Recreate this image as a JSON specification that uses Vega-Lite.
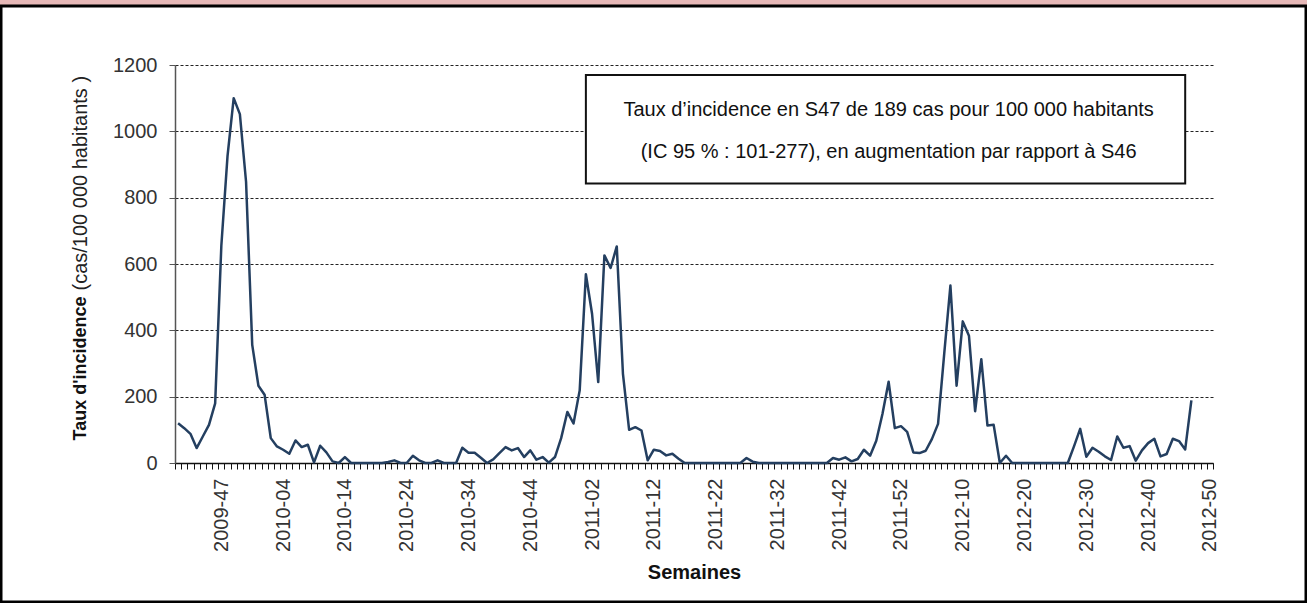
{
  "$schema": "https://vega.github.io/schema/vega-lite/v6.json",
  "width": 1305,
  "height": 596,
  "autosize": {"type": "none"},
  "padding": {"left": 1, "top": 6, "right": 1, "bottom": 1},
  "background": "#E6B8B7",
  "config": {
    "font": "Liberation Sans",
    "view": {"stroke": "black", "strokeWidth": 3, "fill": "white"}
  },
  "resolve": {"axis": {"y": "independent"}},
  "layer": [
    {
      "data": {
        "values": [
          {"week": "2009-40", "taux": 120}, {"week": "2009-41", "taux": 105}, {"week": "2009-42", "taux": 88}, {"week": "2009-43", "taux": 45},
          {"week": "2009-44", "taux": 80}, {"week": "2009-45", "taux": 115}, {"week": "2009-46", "taux": 180}, {"week": "2009-47", "taux": 655},
          {"week": "2009-48", "taux": 925}, {"week": "2009-49", "taux": 1100}, {"week": "2009-50", "taux": 1052}, {"week": "2009-51", "taux": 848},
          {"week": "2009-52", "taux": 356}, {"week": "2009-53", "taux": 233},
          {"week": "2010-01", "taux": 206}, {"week": "2010-02", "taux": 75}, {"week": "2010-03", "taux": 50}, {"week": "2010-04", "taux": 40},
          {"week": "2010-05", "taux": 28}, {"week": "2010-06", "taux": 68}, {"week": "2010-07", "taux": 48}, {"week": "2010-08", "taux": 55},
          {"week": "2010-09", "taux": 2}, {"week": "2010-10", "taux": 52}, {"week": "2010-11", "taux": 32}, {"week": "2010-12", "taux": 5},
          {"week": "2010-13", "taux": 0}, {"week": "2010-14", "taux": 18}, {"week": "2010-15", "taux": 0}, {"week": "2010-16", "taux": 0},
          {"week": "2010-17", "taux": 0}, {"week": "2010-18", "taux": 0}, {"week": "2010-19", "taux": 0}, {"week": "2010-20", "taux": 0},
          {"week": "2010-21", "taux": 3}, {"week": "2010-22", "taux": 8}, {"week": "2010-23", "taux": 0}, {"week": "2010-24", "taux": 0},
          {"week": "2010-25", "taux": 22}, {"week": "2010-26", "taux": 8}, {"week": "2010-27", "taux": 0}, {"week": "2010-28", "taux": 0},
          {"week": "2010-29", "taux": 8}, {"week": "2010-30", "taux": 0}, {"week": "2010-31", "taux": 0}, {"week": "2010-32", "taux": 0},
          {"week": "2010-33", "taux": 46}, {"week": "2010-34", "taux": 31}, {"week": "2010-35", "taux": 31}, {"week": "2010-36", "taux": 16},
          {"week": "2010-37", "taux": 0}, {"week": "2010-38", "taux": 11}, {"week": "2010-39", "taux": 30}, {"week": "2010-40", "taux": 48},
          {"week": "2010-41", "taux": 38}, {"week": "2010-42", "taux": 45}, {"week": "2010-43", "taux": 18}, {"week": "2010-44", "taux": 38},
          {"week": "2010-45", "taux": 10}, {"week": "2010-46", "taux": 18}, {"week": "2010-47", "taux": 1}, {"week": "2010-48", "taux": 18},
          {"week": "2010-49", "taux": 75}, {"week": "2010-50", "taux": 154}, {"week": "2010-51", "taux": 119}, {"week": "2010-52", "taux": 219},
          {"week": "2011-01", "taux": 569}, {"week": "2011-02", "taux": 450}, {"week": "2011-03", "taux": 244}, {"week": "2011-04", "taux": 626},
          {"week": "2011-05", "taux": 588}, {"week": "2011-06", "taux": 653}, {"week": "2011-07", "taux": 269}, {"week": "2011-08", "taux": 100},
          {"week": "2011-09", "taux": 108}, {"week": "2011-10", "taux": 98}, {"week": "2011-11", "taux": 8}, {"week": "2011-12", "taux": 40},
          {"week": "2011-13", "taux": 36}, {"week": "2011-14", "taux": 23}, {"week": "2011-15", "taux": 28}, {"week": "2011-16", "taux": 13},
          {"week": "2011-17", "taux": 0}, {"week": "2011-18", "taux": 0}, {"week": "2011-19", "taux": 0}, {"week": "2011-20", "taux": 0},
          {"week": "2011-21", "taux": 0}, {"week": "2011-22", "taux": 0}, {"week": "2011-23", "taux": 0}, {"week": "2011-24", "taux": 0},
          {"week": "2011-25", "taux": 0}, {"week": "2011-26", "taux": 0}, {"week": "2011-27", "taux": 15}, {"week": "2011-28", "taux": 4},
          {"week": "2011-29", "taux": 0}, {"week": "2011-30", "taux": 0}, {"week": "2011-31", "taux": 0}, {"week": "2011-32", "taux": 0},
          {"week": "2011-33", "taux": 0}, {"week": "2011-34", "taux": 0}, {"week": "2011-35", "taux": 0}, {"week": "2011-36", "taux": 0},
          {"week": "2011-37", "taux": 0}, {"week": "2011-38", "taux": 0}, {"week": "2011-39", "taux": 0}, {"week": "2011-40", "taux": 0},
          {"week": "2011-41", "taux": 15}, {"week": "2011-42", "taux": 10}, {"week": "2011-43", "taux": 17}, {"week": "2011-44", "taux": 5},
          {"week": "2011-45", "taux": 12}, {"week": "2011-46", "taux": 40}, {"week": "2011-47", "taux": 22}, {"week": "2011-48", "taux": 67},
          {"week": "2011-49", "taux": 148}, {"week": "2011-50", "taux": 245}, {"week": "2011-51", "taux": 105}, {"week": "2011-52", "taux": 111},
          {"week": "2012-01", "taux": 94}, {"week": "2012-02", "taux": 32}, {"week": "2012-03", "taux": 30}, {"week": "2012-04", "taux": 37},
          {"week": "2012-05", "taux": 72}, {"week": "2012-06", "taux": 118}, {"week": "2012-07", "taux": 330}, {"week": "2012-08", "taux": 535},
          {"week": "2012-09", "taux": 233}, {"week": "2012-10", "taux": 427}, {"week": "2012-11", "taux": 384}, {"week": "2012-12", "taux": 156},
          {"week": "2012-13", "taux": 313}, {"week": "2012-14", "taux": 113}, {"week": "2012-15", "taux": 115}, {"week": "2012-16", "taux": 0},
          {"week": "2012-17", "taux": 22}, {"week": "2012-18", "taux": 0}, {"week": "2012-19", "taux": 0}, {"week": "2012-20", "taux": 0},
          {"week": "2012-21", "taux": 0}, {"week": "2012-22", "taux": 0}, {"week": "2012-23", "taux": 0}, {"week": "2012-24", "taux": 0},
          {"week": "2012-25", "taux": 0}, {"week": "2012-26", "taux": 0}, {"week": "2012-27", "taux": 0}, {"week": "2012-28", "taux": 50},
          {"week": "2012-29", "taux": 103}, {"week": "2012-30", "taux": 19}, {"week": "2012-31", "taux": 46}, {"week": "2012-32", "taux": 34},
          {"week": "2012-33", "taux": 20}, {"week": "2012-34", "taux": 9}, {"week": "2012-35", "taux": 80}, {"week": "2012-36", "taux": 46},
          {"week": "2012-37", "taux": 51}, {"week": "2012-38", "taux": 7}, {"week": "2012-39", "taux": 38}, {"week": "2012-40", "taux": 60},
          {"week": "2012-41", "taux": 73}, {"week": "2012-42", "taux": 20}, {"week": "2012-43", "taux": 27}, {"week": "2012-44", "taux": 73},
          {"week": "2012-45", "taux": 66}, {"week": "2012-46", "taux": 41}, {"week": "2012-47", "taux": 189}
        ]
      },
      "mark": {"type": "line", "color": "#243F60", "strokeWidth": 2.5, "strokeJoin": "round"},
      "encoding": {
        "x": {
          "field": "week", "type": "ordinal", "sort": null,
          "scale": {
            "type": "band", "paddingInner": 0, "paddingOuter": 0, "range": [174, 1212],
            "domain": ["2009-40","2009-41","2009-42","2009-43","2009-44","2009-45","2009-46","2009-47","2009-48","2009-49","2009-50","2009-51","2009-52","2009-53",
              "2010-01","2010-02","2010-03","2010-04","2010-05","2010-06","2010-07","2010-08","2010-09","2010-10","2010-11","2010-12","2010-13","2010-14","2010-15","2010-16","2010-17","2010-18","2010-19","2010-20","2010-21","2010-22","2010-23","2010-24","2010-25","2010-26","2010-27","2010-28","2010-29","2010-30","2010-31","2010-32","2010-33","2010-34","2010-35","2010-36","2010-37","2010-38","2010-39","2010-40","2010-41","2010-42","2010-43","2010-44","2010-45","2010-46","2010-47","2010-48","2010-49","2010-50","2010-51","2010-52",
              "2011-01","2011-02","2011-03","2011-04","2011-05","2011-06","2011-07","2011-08","2011-09","2011-10","2011-11","2011-12","2011-13","2011-14","2011-15","2011-16","2011-17","2011-18","2011-19","2011-20","2011-21","2011-22","2011-23","2011-24","2011-25","2011-26","2011-27","2011-28","2011-29","2011-30","2011-31","2011-32","2011-33","2011-34","2011-35","2011-36","2011-37","2011-38","2011-39","2011-40","2011-41","2011-42","2011-43","2011-44","2011-45","2011-46","2011-47","2011-48","2011-49","2011-50","2011-51","2011-52",
              "2012-01","2012-02","2012-03","2012-04","2012-05","2012-06","2012-07","2012-08","2012-09","2012-10","2012-11","2012-12","2012-13","2012-14","2012-15","2012-16","2012-17","2012-18","2012-19","2012-20","2012-21","2012-22","2012-23","2012-24","2012-25","2012-26","2012-27","2012-28","2012-29","2012-30","2012-31","2012-32","2012-33","2012-34","2012-35","2012-36","2012-37","2012-38","2012-39","2012-40","2012-41","2012-42","2012-43","2012-44","2012-45","2012-46","2012-47","2012-48","2012-49","2012-50"]
          },
          "axis": {
            "offset": -139,
            "title": "Semaines", "titleFontSize": 20, "titleFontWeight": "bold", "titleColor": "#111111",
            "titleY": 109, "titleBaseline": "middle",
            "labelAngle": 270, "labelFontSize": 20, "labelPadding": 9, "labelColor": "#333333",
            "labelOverlap": false, "labelFlush": false,
            "labelExpr": "indexof(['2009-47','2010-04','2010-14','2010-24','2010-34','2010-44','2011-02','2011-12','2011-22','2011-32','2011-42','2011-52','2012-10','2012-20','2012-30','2012-40','2012-50'], datum.value) >= 0 ? datum.value : ''",
            "tickBand": "extent", "tickSize": 6, "tickColor": "#111111", "tickWidth": 1,
            "domainColor": "#111111", "domainWidth": 1.5, "grid": false
          }
        },
        "y": {
          "field": "taux", "type": "quantitative",
          "scale": {"domain": [0, 1200], "range": [457, 59], "nice": false, "zero": true},
          "axis": {
            "orient": "left",
            "offset": -174,
            "values": [0, 200, 400, 600, 800, 1000, 1200],
            "format": "d",
            "labelFontSize": 20, "labelColor": "#333333", "labelPadding": 12,
            "tickSize": 6, "tickColor": "#555555", "domainColor": "#555555", "domainWidth": 1.5,
            "grid": true, "gridColor": "#222222", "gridDash": [3, 2], "gridWidth": 1,
            "title": "(cas/100 000 habitants )", "titleFontSize": 20, "titleFontWeight": "normal", "titleColor": "#222222",
            "titleAngle": 270, "titleAlign": "left", "titleBaseline": "middle", "titleX": -95, "titleY": 284
          }
        }
      }
    },
    {
      "data": {"values": [{"semaine_debut": "2011-01", "semaine_fin": "2012-46", "haut": 1170, "bas": 843}]},
      "mark": {"type": "rect", "fill": "white", "stroke": "#111111", "strokeWidth": 2},
      "encoding": {
        "x": {"field": "semaine_debut", "type": "ordinal"},
        "x2": {"field": "semaine_fin"},
        "y": {"field": "haut", "type": "quantitative", "axis": null},
        "y2": {"field": "bas"}
      }
    },
    {
      "data": {"values": [{"semaine": "2011-50", "niveau": 1063, "texte": ["Taux d’incidence en S47 de 189 cas pour 100 000 habitants", "(IC 95 % : 101-277), en augmentation par rapport à S46"]}]},
      "mark": {"type": "text", "fontSize": 20, "color": "#111111", "align": "center", "baseline": "middle", "lineHeight": 42},
      "encoding": {
        "x": {"field": "semaine", "type": "ordinal"},
        "y": {
          "field": "niveau", "type": "quantitative",
          "axis": {
            "orient": "left",
            "offset": -174, "labels": false, "ticks": false, "domain": false, "grid": false,
            "title": "Taux d'incidence", "titleFontSize": 18, "titleFontWeight": "bold", "titleColor": "#111111",
            "titleAngle": 270, "titleAlign": "left", "titleBaseline": "middle", "titleX": -95, "titleY": 434
          }
        },
        "text": {"field": "texte"}
      }
    }
  ]
}
